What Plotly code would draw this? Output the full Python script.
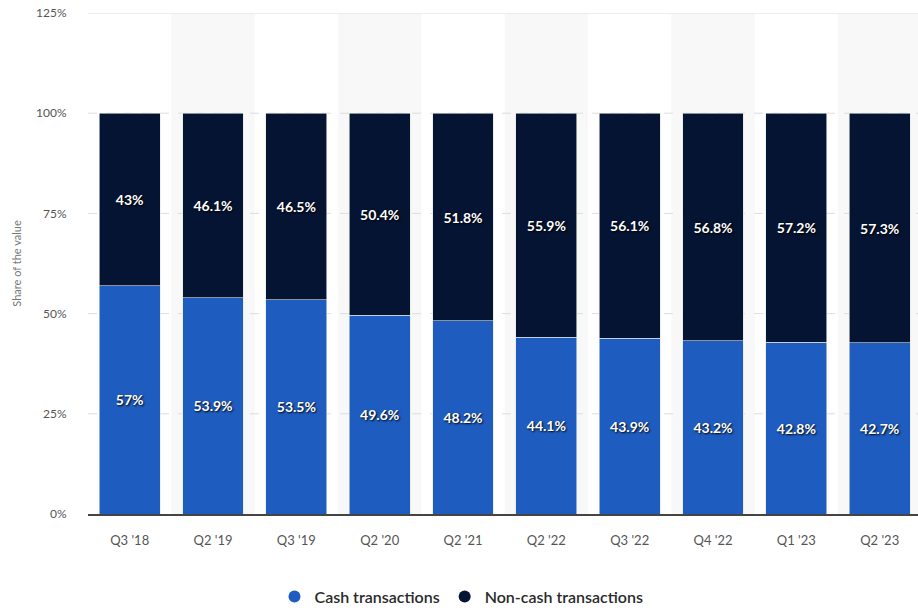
import plotly.graph_objects as go

categories = ["Q3 '18", "Q2 '19", "Q3 '19", "Q2 '20", "Q2 '21", "Q2 '22", "Q3 '22", "Q4 '22", "Q1 '23", "Q2 '23"]
cash = [57, 53.9, 53.5, 49.6, 48.2, 44.1, 43.9, 43.2, 42.8, 42.7]
non_cash = [43, 46.1, 46.5, 50.4, 51.8, 55.9, 56.1, 56.8, 57.2, 57.3]
y_ticks = [0, 25, 50, 75, 100, 125]
y_tick_labels = ["0%", "25%", "50%", "75%", "100%", "125%"]

CASH_COLOR = "#1f5cbf"
NONCASH_COLOR = "#061433"

def fmt(v):
    return f"{v:g}%"

fig = go.Figure()
label_font = dict(family="Lato, Open Sans, sans-serif", size=14, color="white",
                  weight="bold", shadow="1px 1px 2px #000")
for vals, name, color in [(cash, "Cash transactions", CASH_COLOR),
                          (non_cash, "Non-cash transactions", NONCASH_COLOR)]:
    fig.add_trace(go.Bar(x=categories, y=vals, name=name,
                         marker=dict(color=color, line=dict(width=0.6, color="#dfe8e0")),
                         text=[fmt(v) for v in vals], textposition="inside",
                         insidetextanchor="middle", textangle=0,
                         textfont=label_font, showlegend=False, width=0.73))
# legend entries with circle markers
for name, color in [("Cash transactions", CASH_COLOR), ("Non-cash transactions", NONCASH_COLOR)]:
    fig.add_trace(go.Scatter(x=[None], y=[None], mode="markers", name=name,
                             marker=dict(color=color, size=16, symbol="circle")))

shapes = []
for i in range(1, len(categories), 2):
    shapes.append(dict(type="rect", xref="x", yref="paper", x0=i - 0.5, x1=i + 0.5,
                       y0=0, y1=1, fillcolor="#f8f8f8", line=dict(width=0), layer="below"))
for v in y_ticks[1:]:
    shapes.append(dict(type="line", xref="paper", yref="y", x0=0, x1=1, y0=v, y1=v,
                       line=dict(color="#dddddd", width=1, dash="dash" if v < 125 else "solid"),
                       layer="below"))

fig.update_layout(
    width=918, height=614,
    margin=dict(l=88, r=0, t=13, b=96),
    barmode="stack",
    plot_bgcolor="white", paper_bgcolor="white",
    shapes=shapes,
    font=dict(family="Lato, Open Sans, sans-serif", color="#666"),
    xaxis=dict(type="category", range=[-0.5, 9.46], showgrid=False,
               showline=True, linecolor="#444", linewidth=1.5,
               tickfont=dict(size=13, color="#555"), ticks="outside",
               ticklen=0, ticklabelstandoff=14),
    yaxis=dict(range=[0, 125], tickvals=y_ticks, ticktext=y_tick_labels,
               showgrid=False, zeroline=False,
               tickfont=dict(size=12, color="#555"), ticks="outside", ticklen=0,
               ticklabelstandoff=18,
               title=dict(text="Share of the value", font=dict(size=11, color="#777"), standoff=12)),
    legend=dict(orientation="h", x=0.45, xanchor="center", y=-0.165, yanchor="middle",
                font=dict(size=16, color="#2a2a2a", weight=600), itemsizing="constant",
                traceorder="normal", itemwidth=30),
)

fig.write_html("out.html")
